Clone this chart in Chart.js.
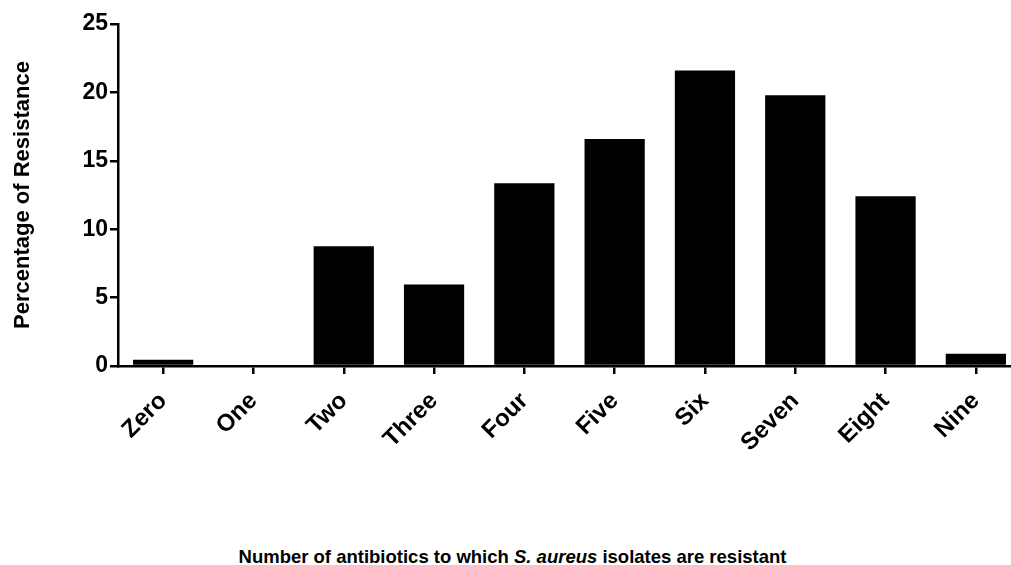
<!DOCTYPE html>
<html>
<head>
<meta charset="utf-8">
<script src="https://cdn.jsdelivr.net/npm/chart.js@4/dist/chart.umd.min.js"></script>
<style>
  body { margin: 0; overflow: hidden; background: #fff; width: 1011px; height: 565px; position: relative; }
  #wrap { position: absolute; left: 0; top: 0; width: 1030px; height: 530px; }
  #tituloX { position: absolute; left: 0; width: 1025px; top: 546px; text-align: center;
             font: bold 18.5px "Liberation Sans", Arial, sans-serif; color: #000; }
</style>
</head>
<body>
<div id="wrap"><canvas id="grafica"></canvas></div>
<div id="tituloX">Number of antibiotics to which <i>S. aureus</i> isolates are resistant</div>
<script>
// categorias y valores
var categorias = ['Zero', 'One', 'Two', 'Three', 'Four', 'Five', 'Six', 'Seven', 'Eight', 'Nine'];
var porcentajes = [0.45, 0, 8.75, 5.95, 13.35, 16.6, 21.6, 19.8, 12.4, 0.9];
var ticksY = [0, 5, 10, 15, 20, 25];

var fuente = '"Liberation Sans", Arial, sans-serif';

var ctx = document.getElementById('grafica').getContext('2d');
var chart = new Chart(ctx, {
  type: 'bar',
  data: {
    labels: categorias,
    datasets: [{
      data: porcentajes,
      backgroundColor: '#000',
      borderColor: '#000',
      borderWidth: 0,
      barPercentage: 0.667,
      categoryPercentage: 1
    }]
  },
  options: {
    responsive: true,
    maintainAspectRatio: false,
    animation: false,
    layout: { padding: { top: 24, right: 9, left: 0, bottom: 0 } },
    plugins: { legend: { display: false }, tooltip: { enabled: false } },
    scales: {
      x: {
        offset: true,
        grid: { offset: false, drawOnChartArea: false, drawTicks: true, tickLength: 8, color: '#000', lineWidth: 2.5 },
        border: { color: '#000', width: 2.5 },
        ticks: { color: '#000', font: { family: fuente, size: 24, weight: 'bold' }, minRotation: 45, maxRotation: 45, padding: 13 },
        afterFit: function(scale) { scale.height = 164; }
      },
      y: {
        min: 0,
        max: 25,
        afterBuildTicks: function(scale) {
          scale.ticks = ticksY.map(function(v) { return { value: v }; });
        },
        grid: { drawOnChartArea: false, drawTicks: true, tickLength: 8, color: '#000', lineWidth: 2.5 },
        border: { color: '#000', width: 2.5 },
        ticks: { color: '#000', font: { family: fuente, size: 23, weight: 'bold' }, padding: 2 },
        title: { display: true, text: 'Percentage of Resistance', color: '#000', font: { family: fuente, size: 22, weight: 'bold' }, padding: { top: 10, bottom: 0 } },
        afterFit: function(scale) { scale.width = 118; }
      }
    }
  }
});
</script>
</body>
</html>
